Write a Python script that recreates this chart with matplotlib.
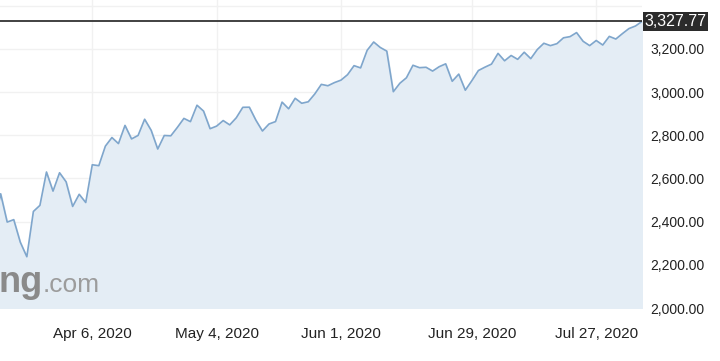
import matplotlib
matplotlib.use("Agg")
import matplotlib.pyplot as plt

plt.rcParams['font.family'] = ['Liberation Sans', 'DejaVu Sans']

# S&P 500 daily closes, trading days 16 Mar 2020 - 5 Aug 2020
dates = ['Mar 16', 'Mar 17', 'Mar 18', 'Mar 19', 'Mar 20', 'Mar 23', 'Mar 24', 'Mar 25',
         'Mar 26', 'Mar 27', 'Mar 30', 'Mar 31', 'Apr 1', 'Apr 2', 'Apr 3', 'Apr 6',
         'Apr 7', 'Apr 8', 'Apr 9', 'Apr 13', 'Apr 14', 'Apr 15', 'Apr 16', 'Apr 17',
         'Apr 20', 'Apr 21', 'Apr 22', 'Apr 23', 'Apr 24', 'Apr 27', 'Apr 28', 'Apr 29',
         'Apr 30', 'May 1', 'May 4', 'May 5', 'May 6', 'May 7', 'May 8', 'May 11',
         'May 12', 'May 13', 'May 14', 'May 15', 'May 18', 'May 19', 'May 20', 'May 21',
         'May 22', 'May 26', 'May 27', 'May 28', 'May 29', 'Jun 1', 'Jun 2', 'Jun 3',
         'Jun 4', 'Jun 5', 'Jun 8', 'Jun 9', 'Jun 10', 'Jun 11', 'Jun 12', 'Jun 15',
         'Jun 16', 'Jun 17', 'Jun 18', 'Jun 19', 'Jun 22', 'Jun 23', 'Jun 24', 'Jun 25',
         'Jun 26', 'Jun 29', 'Jun 30', 'Jul 1', 'Jul 2', 'Jul 6', 'Jul 7', 'Jul 8',
         'Jul 9', 'Jul 10', 'Jul 13', 'Jul 14', 'Jul 15', 'Jul 16', 'Jul 17', 'Jul 20',
         'Jul 21', 'Jul 22', 'Jul 23', 'Jul 24', 'Jul 27', 'Jul 28', 'Jul 29', 'Jul 30',
         'Jul 31', 'Aug 3', 'Aug 4', 'Aug 5']
close = [2386.13, 2529.19, 2398.10, 2409.39, 2304.92, 2237.40, 2447.33, 2475.56,
         2630.07, 2541.47, 2626.65, 2584.59, 2470.50, 2526.90, 2488.65, 2663.68,
         2659.41, 2749.98, 2789.82, 2761.63, 2846.06, 2783.36, 2799.55, 2874.56,
         2823.16, 2736.56, 2799.31, 2797.80, 2836.74, 2878.48, 2863.39, 2939.51,
         2912.43, 2830.71, 2842.74, 2868.44, 2848.42, 2881.19, 2929.80, 2930.32,
         2870.12, 2820.00, 2852.50, 2863.70, 2953.91, 2922.94, 2971.61, 2948.51,
         2955.45, 2991.77, 3036.13, 3029.73, 3044.31, 3055.73, 3080.82, 3122.87,
         3112.35, 3193.93, 3232.39, 3207.18, 3190.14, 3002.10, 3041.31, 3066.59,
         3124.74, 3113.49, 3115.34, 3097.74, 3117.86, 3131.29, 3050.33, 3083.76,
         3009.05, 3053.24, 3100.29, 3115.86, 3130.01, 3179.72, 3145.32, 3169.94,
         3152.05, 3185.04, 3155.22, 3197.52, 3226.56, 3215.57, 3224.73, 3251.84,
         3257.30, 3276.02, 3235.66, 3215.63, 3239.41, 3218.44, 3258.44, 3246.22,
         3271.12, 3294.61, 3306.51, 3327.77]

tick_dates = ['Apr 6', 'May 4', 'Jun 1', 'Jun 29', 'Jul 27']
tick_labels = ['Apr 6, 2020', 'May 4, 2020', 'Jun 1, 2020', 'Jun 29, 2020', 'Jul 27, 2020']
y_ticks = [2000, 2200, 2400, 2600, 2800, 3000, 3200]
last_price = 3327.77

x = list(range(len(close)))
tick_pos = [dates.index(d) for d in tick_dates]

fig = plt.figure(figsize=(7.2, 3.61), dpi=100)
ax = fig.add_axes([0, 53 / 361, 642 / 720, 308 / 361])

grid_c = '#f1f1f1'
for v in y_ticks + [3400]:
    ax.axhline(v, color=grid_c, lw=1, zorder=0)
for p in tick_pos:
    ax.axvline(p, color=grid_c, lw=1, zorder=0)

ax.fill_between(x, close, 2000, color='#e4edf5', zorder=1)
ax.plot(x, close, color='#7fa6cc', lw=1.2, zorder=3)

# watermark, only its tail shows at the left edge
ax.text(43 / 642, 16 / 308, 'ng', transform=ax.transAxes, ha='right',
        va='baseline', fontsize=26, fontweight='bold', color='#8a8a8a', zorder=2)
ax.text(43 / 642, 16 / 308, '.com', transform=ax.transAxes, ha='left',
        va='baseline', fontsize=19, color='#9c9c9c', zorder=2)

ax.axhline(last_price, color='#333333', lw=1.3, zorder=4)
ax.text(1.004, last_price, f'{last_price:,.2f}', transform=ax.get_yaxis_transform(),
        ha='left', va='center', color='white', fontsize=11.5, clip_on=False,
        bbox=dict(boxstyle='square,pad=0.12', fc='#2b2b2b', ec='none'), zorder=5)

ax.set_xlim(0.9, len(close) - 1)
ax.set_ylim(2000, 3427)
ax.set_xticks(tick_pos)
ax.set_xticklabels(tick_labels)
ax.set_yticks(y_ticks)
ax.set_yticklabels([f'{v:,.2f}' for v in y_ticks])
ax.yaxis.tick_right()
ax.tick_params(axis='both', length=0, colors='#222222')
ax.tick_params(axis='y', pad=6, labelsize=10)
ax.tick_params(axis='x', pad=14, labelsize=11)
for s in ax.spines.values():
    s.set_visible(False)

fig.savefig('out.png', dpi=100, facecolor='white')
